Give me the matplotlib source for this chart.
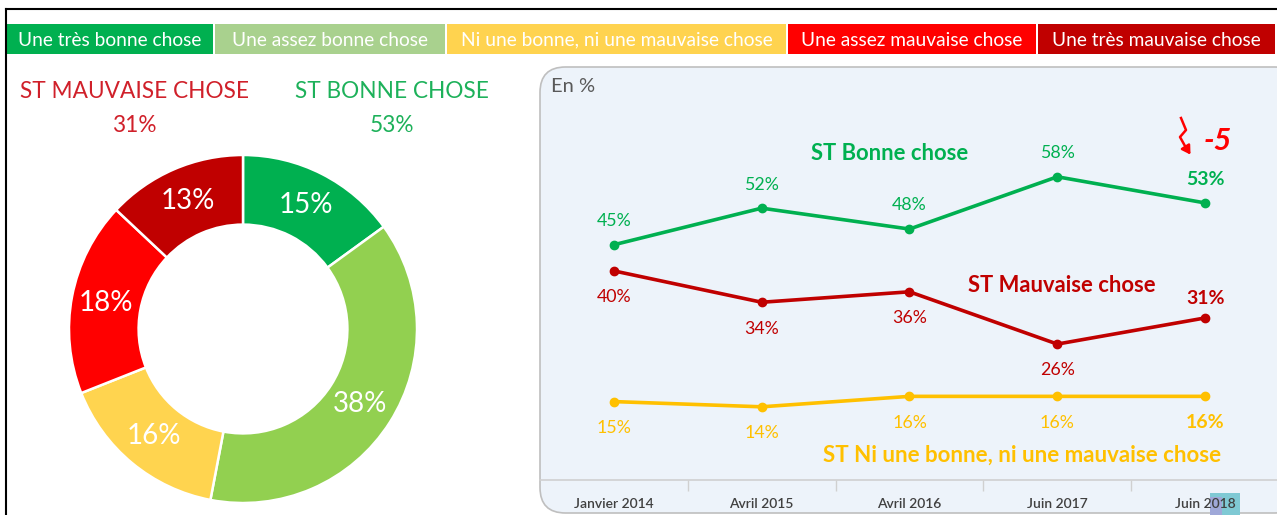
import matplotlib
matplotlib.use("Agg")
import matplotlib.pyplot as plt
from matplotlib.patches import Rectangle, FancyBboxPatch, FancyArrowPatch
from matplotlib.lines import Line2D
import numpy as np

plt.rcParams['font.family'] = ['Lato', 'DejaVu Sans']

# ---------------- data ----------------
legend_labels = ["Une très bonne chose", "Une assez bonne chose",
                 "Ni une bonne, ni une mauvaise chose",
                 "Une assez mauvaise chose", "Une très mauvaise chose"]
legend_colors = ["#00B050", "#A9D18E", "#FFD34F", "#FF0000", "#C00000"]

donut_values = [15, 38, 16, 18, 13]
donut_colors = ["#00B050", "#92D050", "#FFD44F", "#FF0000", "#C00000"]

st_mauvaise_total = 31
st_bonne_total = 53

periods = ["Janvier 2014", "Avril 2015", "Avril 2016", "Juin 2017", "Juin 2018"]
st_bonne = [45, 52, 48, 58, 53]
st_mauvaise = [40, 34, 36, 26, 31]
st_ni = [15, 14, 16, 16, 16]
evolution_bonne = -5

GREEN = "#00B050"
DRED = "#C00000"
YEL = "#FFC000"

W, H = 1277, 515
fig = plt.figure(figsize=(W / 100, H / 100), dpi=100)
fig.patch.set_facecolor("white")


def fx(x):
    return x / W


def fy(y):
    return 1 - y / H


def box(x0, y0, x1, y1):
    return [fx(x0), fy(y1), (x1 - x0) / W, (y1 - y0) / H]


# outer border lines
fig.add_artist(Line2D([fx(6), fx(1277)], [fy(9), fy(9)], color="black", lw=1.5))
fig.add_artist(Line2D([fx(6), fx(6)], [fy(9), fy(515)], color="black", lw=1.5))

# legend boxes
edges = [7, 215, 447, 788, 1038, 1277]
for i, (lab, col) in enumerate(zip(legend_labels, legend_colors)):
    x0, x1 = edges[i], edges[i + 1] - 2
    fig.add_artist(Rectangle((fx(x0), fy(54)), (x1 - x0) / W, 30 / H,
                             transform=fig.transFigure, facecolor=col, edgecolor="none"))
    fig.text(fx((x0 + x1) / 2), fy(40), lab, color="white", fontsize=13.8,
             ha="center", va="center")

# titles above donut
fig.text(fx(134), fy(92), "ST MAUVAISE CHOSE", color="#D0202A", fontsize=16.3,
         ha="center", va="center")
fig.text(fx(134), fy(125), f"{st_mauvaise_total}%", color="#D0202A", fontsize=16.3,
         ha="center", va="center")
fig.text(fx(392), fy(92), "ST BONNE CHOSE", color="#1DB15A", fontsize=16.3,
         ha="center", va="center")
fig.text(fx(392), fy(125), f"{st_bonne_total}%", color="#1DB15A", fontsize=16.3,
         ha="center", va="center")

# donut
cx, cy, R = 243, 329, 174
axp = fig.add_axes(box(cx - R, cy - R, cx + R, cy + R))
axp.pie(donut_values, colors=donut_colors, startangle=90, counterclock=False,
        radius=1, wedgeprops=dict(width=0.40, edgecolor="white", linewidth=1.8))
axp.set_xlim(-1, 1)
axp.set_ylim(-1, 1)
axp.set_aspect("equal")
axp.axis("off")
cum = 0
for v in donut_values:
    mid = 90 - (cum + v / 2) / sum(donut_values) * 360
    cum += v
    r = 0.80
    axp.text(r * np.cos(np.radians(mid)), r * np.sin(np.radians(mid)), f"{v}%",
             color="white", fontsize=20, ha="center", va="center")

# right panel background
panel = FancyBboxPatch((fx(540), fy(513)), (1300 - 540) / W, (513 - 67) / H,
                       boxstyle="round,pad=0,rounding_size=0.02",
                       transform=fig.transFigure, facecolor="#EDF3FA",
                       edgecolor="#BFBFBF", linewidth=1.2, mutation_aspect=W / H,
                       zorder=-10)
fig.add_artist(panel)
fig.text(fx(551), fy(87), "En %", color="#595959", fontsize=14.5, ha="left", va="center")

# small artifact box bottom right (behind the tick labels)
fig.add_artist(Rectangle((fx(1210), fy(515)), 30 / W, 22 / H, transform=fig.transFigure,
                         facecolor="#7FC9D4", edgecolor="none", zorder=-5))
fig.add_artist(Rectangle((fx(1210), fy(515)), 12 / W, 18 / H, transform=fig.transFigure,
                         facecolor="#9FA8D8", edgecolor="none", zorder=-4))

# line chart
ax = fig.add_axes(box(540, 67, 1279, 480))
ax.set_zorder(2)
ax.set_facecolor("none")
x = list(range(len(periods)))
ax.plot(x, st_bonne, color=GREEN, lw=2.6, marker="o", ms=6)
ax.plot(x, st_mauvaise, color=DRED, lw=2.6, marker="o", ms=6)
ax.plot(x, st_ni, color=YEL, lw=2.6, marker="o", ms=6)
ax.set_xlim(-0.5, 4.5)
ax.set_ylim(0, 79)
for s in ["top", "left", "right"]:
    ax.spines[s].set_visible(False)
ax.spines["bottom"].set_color("#D0D0D0")
ax.spines["bottom"].set_linewidth(1.2)
ax.set_yticks([])
ax.set_xticks(x)
ax.set_xticklabels(periods, fontsize=10, color="#404040", fontweight="semibold")
ax.tick_params(axis="x", length=0, pad=13)
ax.set_xticks([0.5, 1.5, 2.5, 3.5], minor=True)
ax.tick_params(axis="x", which="minor", length=8, color="#D0D0D0", width=1)

last = len(periods) - 1
for i in x:
    b = i == last
    fs = 14 if b else 12.8
    fw = "bold" if b else "normal"
    ax.annotate(f"{st_bonne[i]}%", (i, st_bonne[i]), xytext=(0, 17), textcoords="offset points",
                ha="center", va="center", color=GREEN, fontsize=fs, fontweight=fw)
    off = 14 if b else -19
    ax.annotate(f"{st_mauvaise[i]}%", (i, st_mauvaise[i]), xytext=(0, off), textcoords="offset points",
                ha="center", va="center", color=DRED, fontsize=fs, fontweight=fw)
    ax.annotate(f"{st_ni[i]}%", (i, st_ni[i]), xytext=(0, -19), textcoords="offset points",
                ha="center", va="center", color=YEL, fontsize=fs, fontweight=fw)

fig.text(fx(890), fy(154), "ST Bonne chose", color=GREEN, fontsize=15.8, fontweight="bold",
         ha="center", va="center", zorder=3)
fig.text(fx(1062), fy(285), "ST Mauvaise chose", color=DRED, fontsize=15.8, fontweight="bold",
         ha="center", va="center", zorder=3)
fig.text(fx(1022), fy(455), "ST Ni une bonne, ni une mauvaise chose", color=YEL, fontsize=16,
         fontweight="bold", ha="center", va="center", zorder=3)

# evolution annotation
fig.text(fx(1218), fy(141), f"{evolution_bonne}", color="#FF0000", fontsize=22,
         fontweight="bold", style="italic", ha="center", va="center", zorder=3)
fig.add_artist(Line2D([fx(1181), fx(1186), fx(1180), fx(1185)],
                      [fy(118), fy(130), fy(137), fy(146)], color="#FF0000", lw=1.8, zorder=3))
fig.add_artist(FancyArrowPatch((fx(1185), fy(146)), (fx(1192), fy(157)),
                               transform=fig.transFigure, arrowstyle="-|>,head_length=5,head_width=3",
                               color="#FF0000", lw=1.8, zorder=3))

fig.savefig("out.png", dpi=100)
